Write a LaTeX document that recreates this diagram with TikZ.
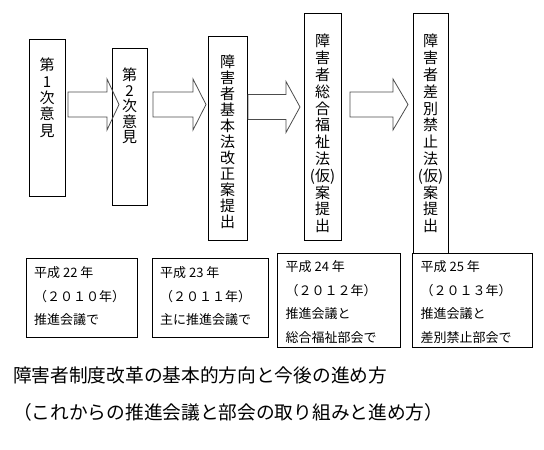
\documentclass[tikz,border=0pt]{standalone}
\usepackage{fontspec}
\setmainfont{Noto Sans CJK JP}
\usepackage{tikz}
\usetikzlibrary{calc}
\tikzstyle{stagebox} = [rectangle, draw=black, line width=1pt, inner sep=0pt]
\tikzstyle{stagetext} = [anchor=north, align=center, inner sep=0pt]
\tikzstyle{yearbox} = [rectangle, draw=black, line width=1pt, inner sep=0pt, anchor=north west]
\tikzstyle{yeartext} = [anchor=north west, align=left, inner sep=0pt, font=\fontsize{13}{23.5}\selectfont]
\tikzstyle{blockarrow} = [draw=black!70, line width=0.8pt]
\newcommand{\vfont}[1]{\fontsize{15}{#1}\selectfont}
% tail, tip, head length
\newcommand{\bigarrow}[3]{\draw[blockarrow] ($(#1)+(0,-12.5)$) -- ($(#2)+(-#3,-12.5)$) -- ($(#2)+(-#3,-25.5)$) -- (#2)
  -- ($(#2)+(-#3,25.5)$) -- ($(#2)+(-#3,12.5)$) -- ($(#1)+(0,12.5)$) -- cycle;}

\begin{document}
\begin{tikzpicture}[x=1pt,y=-1pt]
	\useasboundingbox (0,0) rectangle (544,450);
	% stages
	\node[stagebox, minimum width=36pt, minimum height=157pt](p_1) at (47,117.5) {};
	\node[stagebox, minimum width=35pt, minimum height=157pt](p_2) at (129.5,126.5) {};
	\node[stagebox, minimum width=39pt, minimum height=204pt](p_3) at (227.5,138) {};
	\node[stagebox, minimum width=37pt, minimum height=227pt](p_4) at (322.5,126.5) {};
	\node[stagebox, minimum width=35pt, minimum height=240pt](p_5) at (430.5,133) {};
	\node[stagetext, font=\vfont{16.3}](t_1) at ($(p_1.north)+(0,19.5)$) {第\\1\\次\\意\\見};
	\node[stagetext, font=\vfont{15.5}](t_2) at ($(p_2.north)+(0,20.5)$) {第\\2\\次\\意\\見};
	\node[stagetext, font=\vfont{16}](t_3) at ($(p_3.north)+(0,19)$) {障\\害\\者\\基\\本\\法\\改\\正\\案\\提\\出};
	\node[stagetext, font=\vfont{16.8}](t_4) at ($(p_4.north)+(0,21.5)$) {障\\害\\者\\総\\合\\福\\祉\\法\\(仮)\\案\\提\\出};
	\node[stagetext, font=\vfont{16.8}](t_5) at ($(p_5.north)+(0,21.5)$) {障\\害\\者\\差\\別\\禁\\止\\法\\(仮)\\案\\提\\出};
	% arrows
	\coordinate (a_1) at (68,104.5);  \coordinate (b_1) at (119,104.5);
	\coordinate (a_2) at (153,104.5); \coordinate (b_2) at (206,104.5);
	\coordinate (a_3) at (248,107);   \coordinate (b_3) at (300,107);
	\coordinate (a_4) at (350,104.5); \coordinate (b_4) at (408,104.5);
	\bigarrow{a_1}{b_1}{12}
	\bigarrow{a_2}{b_2}{13}
	\bigarrow{a_3}{b_3}{14}
	\bigarrow{a_4}{b_4}{15}
	% years
	\node[yearbox, minimum width=111pt, minimum height=79pt](y_1) at (26,258) {};
	\node[yearbox, minimum width=116pt, minimum height=79pt](y_2) at (152,258) {};
	\node[yearbox, minimum width=123pt, minimum height=94pt](y_3) at (277,253) {};
	\node[yearbox, minimum width=120pt, minimum height=94pt](y_4) at (412,253) {};
	\node[yeartext](u_1) at ($(y_1.north west)+(8,8.5)$) {平成 22 年\\（２０１０年）\\推進会議で};
	\node[yeartext](u_2) at ($(y_2.north west)+(8,8.5)$) {平成 23 年\\（２０１１年）\\主に推進会議で};
	\node[yeartext](u_3) at ($(y_3.north west)+(8.5,7.5)$) {平成 24 年\\（２０１２年）\\推進会議と\\総合福祉部会で};
	\node[yeartext](u_4) at ($(y_4.north west)+(8.5,7.5)$) {平成 25 年\\（２０１３年）\\推進会議と\\差別禁止部会で};
	% caption
	\node[anchor=west, inner sep=0pt, font=\fontsize{18.7}{20}\selectfont](title) at (13,375) {障害者制度改革の基本的方向と今後の進め方};
	\node[anchor=west, inner sep=0pt, font=\fontsize{18.7}{20}\selectfont](subtitle) at (13,412) {（これからの推進会議と部会の取り組みと進め方）};
\end{tikzpicture}
\end{document}
